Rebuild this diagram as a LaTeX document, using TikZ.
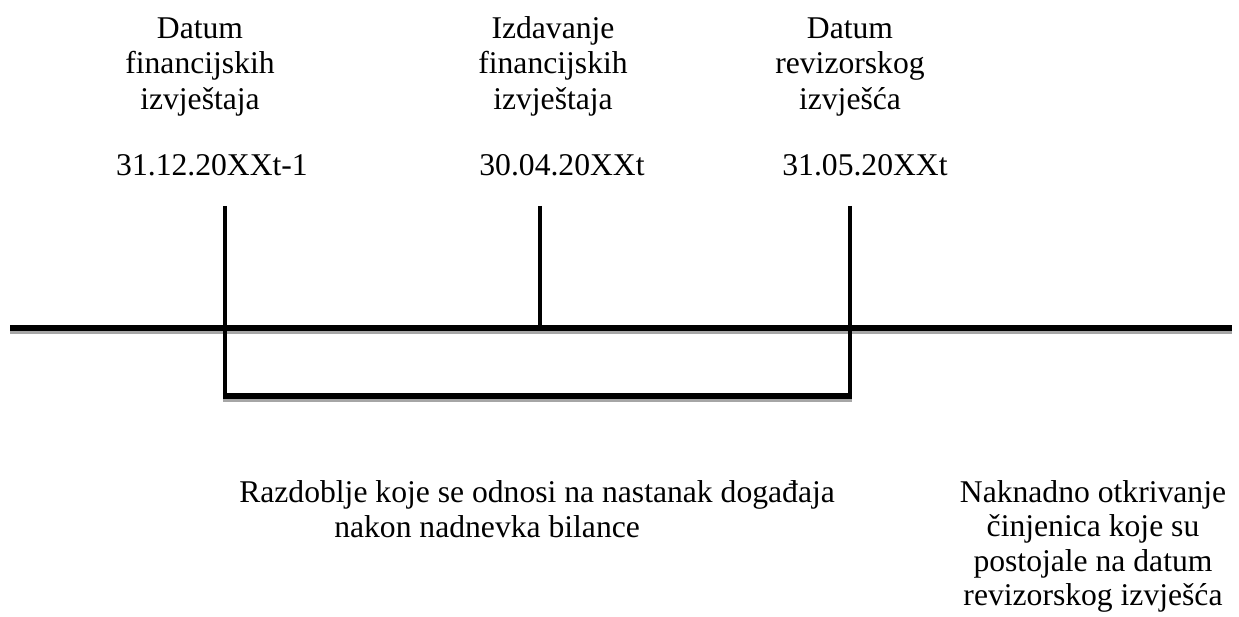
\documentclass[tikz,border=0pt]{standalone}
\usepackage{fontspec}
\setmainfont{Liberation Serif}
\tikzset{
  axisline/.style={line width=4.2pt},
  tickline/.style={line width=3.2pt},
  shadowline/.style={line width=4.2pt, black!35},
  eventtext/.style={align=center, inner sep=0pt, anchor=base, font=\fontsize{22.5pt}{25.6pt}\selectfont},
}
\begin{document}
\begin{tikzpicture}
  \useasboundingbox (0,0) rectangle (30.975,15.425);

  % Points on the time axis
  \coordinate (axL) at (0.25,7.225);
  \coordinate (axR) at (30.8,7.225);
  \coordinate (fsTop) at (5.625,10.275);
  \coordinate (fsBot) at (5.625,5.45);
  \coordinate (izTop) at (13.5,10.275);
  \coordinate (izBot) at (13.5,7.225);
  \coordinate (rvTop) at (21.25,10.275);
  \coordinate (rvBot) at (21.25,5.45);
  \coordinate (brL) at (5.57,5.525);
  \coordinate (brR) at (21.305,5.525);

  % Shadows
  \draw[shadowline] ([yshift=-0.085cm]axL) -- ([yshift=-0.085cm]axR);
  \draw[shadowline] ([yshift=-0.085cm]brL) -- ([yshift=-0.085cm]brR);

  % Time axis and markers
  \draw[axisline] (axL) -- (axR);
  \draw[tickline] (fsTop) -- (fsBot);
  \draw[tickline] (izTop) -- (izBot);
  \draw[tickline] (rvTop) -- (rvBot);
  \draw[axisline] (brL) -- (brR);

  % Event labels (anchored on their last line)
  \node[eventtext] (fsText) at (5.0,12.675) {Datum\\financijskih\\izvještaja};
  \node[eventtext] (izText) at (13.825,12.675) {Izdavanje\\financijskih\\izvještaja};
  \node[eventtext] (rvText) at (21.25,12.675) {Datum\\revizorskog\\izvješća};

  % Dates
  \node[eventtext] (fsDate) at (5.3,11.025) {31.12.20XXt-1};
  \node[eventtext] (izDate) at (14.05,11.025) {30.04.20XXt};
  \node[eventtext] (rvDate) at (21.625,11.025) {31.05.20XXt};

  % Periods
  \node[eventtext, align=left, anchor=base west] (period) at (5.975,1.975)
    {Razdoblje koje se odnosi na nastanak događaja\\\hspace*{2.375cm}nakon nadnevka bilance};
  \node[eventtext, font=\fontsize{22.5pt}{24.5pt}\selectfont] (later) at (27.325,0.2825)
    {Naknadno otkrivanje\\činjenica koje su\\postojale na datum\\revizorskog izvješća};
\end{tikzpicture}
\end{document}
